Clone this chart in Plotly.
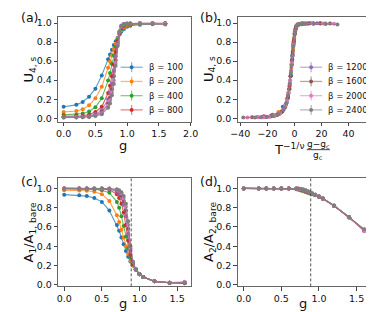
import plotly.graph_objects as go

# ---------------- data ----------------
G = [0, 0.2, 0.3, 0.4, 0.5, 0.6, 0.7, 0.73, 0.76, 0.79, 0.82, 0.85, 0.88, 0.91,
     0.95, 1.0, 1.05, 1.2, 1.4, 1.6]
BETAS = [100, 200, 400, 800, 1200, 1600, 2000, 2400]
COLORS = ["#1f77b4", "#ff7f0e", "#2ca02c", "#d62728",
          "#9467bd", "#8c564b", "#e377c2", "#7f7f7f"]
G_C_LINE = 0.89      # dashed line in (c), (d)
G_C_FIT = 0.87       # g_c used in the scaling collapse of (b)
INV_NU = 0.467       # 1/nu used in the collapse of (b)

# (a) Binder ratio U_{4,s}
U4_100 = [0.12, 0.14, 0.17, 0.226, 0.31, 0.45, 0.62, 0.67, 0.72, 0.77, 0.81, 0.845, 0.88, 0.91, 0.937, 0.96, 0.972, 0.982, 0.987, 0.99]
U4_200 = [0.065, 0.075, 0.095, 0.135, 0.21, 0.33, 0.53, 0.595, 0.66, 0.727, 0.785, 0.84, 0.884, 0.923, 0.954, 0.975, 0.985, 0.99, 0.993, 0.993]
U4_400 = [0.035, 0.04, 0.05, 0.07, 0.115, 0.21, 0.395, 0.475, 0.57, 0.66, 0.75, 0.825, 0.89, 0.935, 0.97, 0.985, 0.99, 0.995, 0.996, 0.996]
U4_800 = [0.02, 0.022, 0.026, 0.038, 0.065, 0.12, 0.265, 0.34, 0.44, 0.565, 0.695, 0.807, 0.895, 0.952, 0.981, 0.991, 0.994, 0.996, 0.997, 0.997]
U4_1200 = [0.012, 0.014, 0.018, 0.026, 0.043, 0.083, 0.2, 0.27, 0.365, 0.5, 0.65, 0.79, 0.9, 0.96, 0.985, 0.993, 0.995, 0.997, 0.997, 0.996]
U4_1600 = [0.01, 0.011, 0.013, 0.02, 0.033, 0.064, 0.155, 0.215, 0.305, 0.44, 0.61, 0.78, 0.905, 0.968, 0.989, 0.994, 0.996, 0.997, 0.996, 0.995]
U4_2000 = [0.008, 0.009, 0.011, 0.016, 0.027, 0.052, 0.13, 0.185, 0.27, 0.395, 0.58, 0.77, 0.91, 0.972, 0.99, 0.995, 0.996, 0.997, 0.996, 0.994]
U4_2400 = [0.006, 0.007, 0.009, 0.013, 0.022, 0.042, 0.11, 0.155, 0.24, 0.36, 0.55, 0.76, 0.915, 0.975, 0.991, 0.995, 0.995, 0.994, 0.99, 0.985]

# (c) A1 / A1,bare
A1_100 = [0.935, 0.93, 0.92, 0.9, 0.86, 0.77, 0.62, 0.56, 0.49, 0.42, 0.35, 0.29, 0.24, 0.2, 0.155, 0.11, 0.08, 0.035, 0.02, 0.015]
A1_200 = [0.98, 0.978, 0.975, 0.965, 0.94, 0.87, 0.72, 0.65, 0.57, 0.49, 0.4, 0.32, 0.25, 0.2, 0.155, 0.11, 0.08, 0.035, 0.02, 0.015]
A1_400 = [0.995, 0.995, 0.993, 0.99, 0.98, 0.955, 0.86, 0.8, 0.71, 0.61, 0.5, 0.38, 0.28, 0.21, 0.16, 0.11, 0.08, 0.035, 0.02, 0.018]
A1_800 = [1.0, 1.0, 0.998, 0.997, 0.995, 0.985, 0.94, 0.9, 0.84, 0.75, 0.62, 0.46, 0.31, 0.22, 0.16, 0.11, 0.08, 0.035, 0.02, 0.02]
A1_1200 = [1.0, 1.0, 1.0, 1.0, 0.998, 0.993, 0.965, 0.94, 0.9, 0.83, 0.71, 0.53, 0.34, 0.23, 0.16, 0.11, 0.08, 0.035, 0.02, 0.025]
A1_1600 = [1.0, 1.0, 1.0, 1.0, 0.999, 0.996, 0.978, 0.96, 0.93, 0.87, 0.77, 0.58, 0.36, 0.23, 0.16, 0.11, 0.08, 0.035, 0.02, 0.022]
A1_2000 = [1.0, 1.0, 1.0, 1.0, 1.0, 0.998, 0.985, 0.972, 0.95, 0.9, 0.81, 0.62, 0.38, 0.24, 0.16, 0.11, 0.08, 0.035, 0.022, 0.03]
A1_2400 = [1.0, 1.0, 1.0, 1.0, 1.0, 0.999, 0.99, 0.98, 0.96, 0.92, 0.84, 0.66, 0.4, 0.24, 0.16, 0.11, 0.08, 0.035, 0.02, 0.02]

# (d) A2 / A2,bare
A2_100 = [1.0, 1.0, 1.0, 1.0, 1.0, 0.998, 0.99, 0.985, 0.978, 0.97, 0.962, 0.954, 0.946, 0.938, 0.929, 0.912, 0.893, 0.818, 0.698, 0.572]
A2_200 = [1.0, 1.0, 1.0, 1.0, 1.0, 0.999, 0.993, 0.988, 0.982, 0.974, 0.966, 0.958, 0.95, 0.941, 0.931, 0.913, 0.894, 0.819, 0.699, 0.57]
A2_400 = [1.0, 1.0, 1.0, 1.0, 1.0, 1.0, 0.995, 0.991, 0.985, 0.978, 0.97, 0.961, 0.952, 0.943, 0.932, 0.914, 0.895, 0.82, 0.7, 0.568]
A2_800 = [1.0, 1.0, 1.0, 1.0, 1.0, 1.0, 0.997, 0.993, 0.988, 0.981, 0.973, 0.964, 0.955, 0.945, 0.933, 0.915, 0.895, 0.82, 0.7, 0.565]
A2_1200 = [1.0, 1.0, 1.0, 1.0, 1.0, 1.0, 0.998, 0.995, 0.99, 0.984, 0.976, 0.967, 0.957, 0.946, 0.934, 0.915, 0.896, 0.821, 0.701, 0.562]
A2_1600 = [1.0, 1.0, 1.0, 1.0, 1.0, 1.0, 0.999, 0.996, 0.992, 0.986, 0.978, 0.969, 0.958, 0.947, 0.934, 0.916, 0.896, 0.821, 0.701, 0.56]
A2_2000 = [1.0, 1.0, 1.0, 1.0, 1.0, 1.0, 0.999, 0.997, 0.993, 0.988, 0.98, 0.97, 0.959, 0.947, 0.935, 0.916, 0.896, 0.82, 0.699, 0.556]
A2_2400 = [1.0, 1.0, 1.0, 1.0, 1.0, 1.0, 1.0, 0.998, 0.994, 0.989, 0.981, 0.971, 0.96, 0.948, 0.935, 0.916, 0.897, 0.822, 0.702, 0.577]

U4 = [U4_100, U4_200, U4_400, U4_800, U4_1200, U4_1600, U4_2000, U4_2400]
A1 = [A1_100, A1_200, A1_400, A1_800, A1_1200, A1_1600, A1_2000, A1_2400]
A2 = [A2_100, A2_200, A2_400, A2_800, A2_1200, A2_1600, A2_2000, A2_2400]

# ---------------- figure ----------------
W, H = 374, 312
FONT = "DejaVu Sans"
TICKF = dict(family=FONT, size=9.5, color="#111")


def px_x(p):
    return p / W


def px_y(p):
    return 1 - p / H


def rgba(hexc, a):
    h = hexc.lstrip("#")
    return "rgba(%d,%d,%d,%.2f)" % (int(h[0:2], 16), int(h[2:4], 16), int(h[4:6], 16), a)


fig = go.Figure()

DOM = {
    "a": ([45, 183], [9, 115]),
    "b": ([232, 370], [9, 115]),
    "c": ([45, 183], [172, 282]),
    "d": ([232, 370], [172, 282]),
}
AX = {"a": ("x", "y"), "b": ("x2", "y2"), "c": ("x3", "y3"), "d": ("x4", "y4")}
LINE_ALPHA = 0.75

for i, (b, c) in enumerate(zip(BETAS, COLORS)):
    name = "β = %d" % b
    common = dict(mode="lines+markers", name=name, showlegend=False,
                  line=dict(color=rgba(c, LINE_ALPHA), width=1.1),
                  marker=dict(color=c, size=4))
    fig.add_trace(go.Scatter(x=G, y=U4[i], xaxis="x", yaxis="y", **common))
    s = b ** INV_NU  # T^{-1/nu} with T = 1/beta
    xs = [s * (g - G_C_FIT) / G_C_FIT for g in G]
    fig.add_trace(go.Scatter(x=xs, y=U4[i], xaxis="x2", yaxis="y2", **common))
    fig.add_trace(go.Scatter(x=G, y=A1[i], xaxis="x3", yaxis="y3", **common))
    fig.add_trace(go.Scatter(x=G, y=A2[i], xaxis="x4", yaxis="y4", **common))

axis_common = dict(showline=True, linecolor="#666", linewidth=1, mirror=True,
                   ticks="outside", ticklen=3.5, tickwidth=0.8, tickcolor="#444",
                   showgrid=False, zeroline=False, tickfont=TICKF)

layout = dict(width=W, height=H, margin=dict(l=0, r=0, t=0, b=0),
              paper_bgcolor="white", plot_bgcolor="white", showlegend=False,
              font=dict(family=FONT, color="#111"))

xranges = {"a": [-0.086, 2.0], "b": [-42, 56], "c": [-0.08, 1.68], "d": [-0.08, 1.68]}
yranges = {"a": [-0.035, 1.065], "b": [-0.035, 1.065], "c": [-0.017, 1.11], "d": [-0.017, 1.11]}
xticks = {"a": [0, 0.5, 1.0, 1.5, 2.0], "b": [-40, -20, 0, 20, 40],
          "c": [0, 0.5, 1.0, 1.5], "d": [0, 0.5, 1.0, 1.5]}
yticks = [0, 0.2, 0.4, 0.6, 0.8, 1.0]

for k, (xa, ya) in AX.items():
    (x0, x1), (y0, y1) = DOM[k]
    xkey = "xaxis" if xa == "x" else "xaxis" + xa[1:]
    ykey = "yaxis" if ya == "y" else "yaxis" + ya[1:]
    xfmt = "d" if k == "b" else ".1f"
    layout[xkey] = dict(domain=[px_x(x0), px_x(x1)], range=xranges[k], anchor=ya,
                        tickvals=xticks[k], tickformat=xfmt, **axis_common)
    layout[ykey] = dict(domain=[px_y(y1), px_y(y0)], range=yranges[k], anchor=xa,
                        tickvals=yticks, tickformat=".1f", **axis_common)
fig.update_layout(**layout)

# dashed g_c lines
for xa, ya in [("x3", "y3"), ("x4", "y4")]:
    fig.add_shape(type="line", xref=xa, yref=ya + " domain", x0=G_C_LINE, x1=G_C_LINE,
                  y0=0, y1=1, line=dict(color="#555", width=1, dash="3px,2px"))

ann = []

# ---- legends (drawn in matplotlib style: compact rows) ----
LEGF = dict(family=FONT, size=8.5, color="#111")


def add_legend(idx_list, box_x0, box_y0):
    fig.add_shape(type="rect", xref="paper", yref="paper",
                  x0=px_x(box_x0), x1=px_x(box_x0 + 70), y0=px_y(box_y0 + 58), y1=px_y(box_y0),
                  fillcolor="rgba(255,255,255,0.8)", line=dict(width=0), layer="above")
    for r, i in enumerate(idx_list):
        yc = box_y0 + 7 + 14.4 * r
        lx0, lx1 = box_x0 + 3, box_x0 + 26
        mx = (lx0 + lx1) / 2
        col = COLORS[i]
        fig.add_shape(type="line", xref="paper", yref="paper", x0=px_x(lx0), x1=px_x(lx1),
                      y0=px_y(yc), y1=px_y(yc), line=dict(color=rgba(col, 0.55), width=1.3),
                      layer="above")
        fig.add_shape(type="line", xref="paper", yref="paper", x0=px_x(mx), x1=px_x(mx),
                      y0=px_y(yc - 5), y1=px_y(yc + 5), line=dict(color=rgba(col, 0.55), width=1.3),
                      layer="above")
        fig.add_shape(type="circle", xref="paper", yref="paper",
                      x0=px_x(mx - 2), x1=px_x(mx + 2), y0=px_y(yc + 2), y1=px_y(yc - 2),
                      fillcolor=col, line=dict(width=0), layer="above")
        ann.append(dict(text="β = %d" % BETAS[i], x=px_x(box_x0 + 30), y=px_y(yc),
                        xref="paper", yref="paper", xanchor="left", yanchor="middle",
                        showarrow=False, font=LEGF))


add_legend([0, 1, 2, 3], 107, 53)
add_legend([4, 5, 6, 7], 294, 53)

PANEL = dict(family=FONT, size=12.5, color="#111")
for lab, xp, yp in [("(a)", 4, 10), ("(b)", 191, 10), ("(c)", 4, 176), ("(d)", 191, 176)]:
    ann.append(dict(text=lab, x=px_x(xp), y=px_y(yp), xref="paper", yref="paper",
                    xanchor="left", yanchor="middle", showarrow=False, font=PANEL))
TITLE = dict(family=FONT, size=13, color="#111")
for xp, yp in [(113, 139.5), (113, 299), (300, 299)]:
    ann.append(dict(text="g", x=px_x(xp), y=px_y(yp), xref="paper", yref="paper",
                    xanchor="center", yanchor="middle", showarrow=False, font=TITLE))
for txt, xp, yp in [("U<sub>4, s</sub>", 15, 62), ("U<sub>4, s</sub>", 202, 62),
                    ("A<sub>1</sub>/A<sub>1, bare</sub>", 15, 227),
                    ("A<sub>2</sub>/A<sub>2, bare</sub>", 202, 227)]:
    ann.append(dict(text=txt, x=px_x(xp), y=px_y(yp), xref="paper", yref="paper",
                    xanchor="center", yanchor="middle", textangle=-90, showarrow=False,
                    font=TITLE))
# x label of (b): T^{-1/nu} (g - g_c)/g_c
ann.append(dict(text="T<sup>−1/ν</sup>", x=px_x(268), y=px_y(143), xref="paper", yref="paper",
                xanchor="left", yanchor="middle", showarrow=False, font=TITLE))
SMALL = dict(family=FONT, size=9, color="#111")
ann.append(dict(text="g−g<sub>c</sub>", x=px_x(316), y=px_y(138), xref="paper", yref="paper",
                xanchor="center", yanchor="middle", showarrow=False, font=SMALL))
ann.append(dict(text="g<sub>c</sub>", x=px_x(316), y=px_y(149), xref="paper", yref="paper",
                xanchor="center", yanchor="middle", showarrow=False, font=SMALL))
fig.add_shape(type="line", xref="paper", yref="paper", x0=px_x(304), x1=px_x(328),
              y0=px_y(143.5), y1=px_y(143.5), line=dict(color="#111", width=0.8))
fig.update_layout(annotations=ann)

fig.write_html("out.html")
